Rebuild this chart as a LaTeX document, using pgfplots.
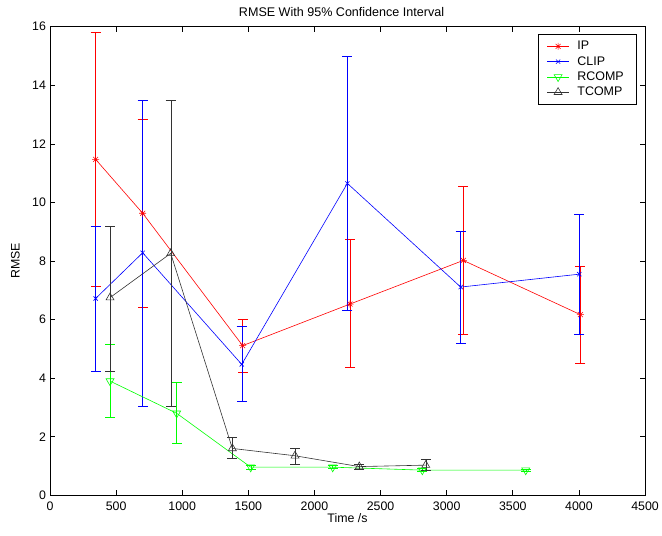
\documentclass[border=0pt]{standalone}
\usepackage{fontspec}
\setmainfont{Liberation Sans}
\usepackage{pgfplots}
\pgfplotsset{compat=1.18}
\definecolor{tgray}{rgb}{0.2,0.2,0.2}
\pgfdeclareplotmark{mstar}{%
  \pgfpathmoveto{\pgfqpoint{0pt}{\pgfplotmarksize}}\pgfpathlineto{\pgfqpoint{0pt}{-\pgfplotmarksize}}%
  \pgfpathmoveto{\pgfqpoint{\pgfplotmarksize}{0pt}}\pgfpathlineto{\pgfqpoint{-\pgfplotmarksize}{0pt}}%
  \pgfpathmoveto{\pgfqpoint{0.707\pgfplotmarksize}{0.707\pgfplotmarksize}}\pgfpathlineto{\pgfqpoint{-0.707\pgfplotmarksize}{-0.707\pgfplotmarksize}}%
  \pgfpathmoveto{\pgfqpoint{0.707\pgfplotmarksize}{-0.707\pgfplotmarksize}}\pgfpathlineto{\pgfqpoint{-0.707\pgfplotmarksize}{0.707\pgfplotmarksize}}%
  \pgfusepathqstroke}
\begin{document}
\begin{tikzpicture}[x=1bp,y=1bp]
\path[use as bounding box] (-50bp,-40.7bp) rectangle (612bp,495.3bp);
\begin{axis}[
  at={(0,0)}, anchor=south west,
  scale only axis, width=595bp, height=468.6bp,
  xmin=0, xmax=4500, ymin=0, ymax=16,
  xtick={0,500,...,4500}, ytick={0,2,...,16},
  tick align=inside, tick pos=both,
  major tick length=5bp,
  scaled x ticks=false,
  /pgf/number format/assume math mode=true,
  /pgf/number format/1000 sep={},
  ticklabel style={font=\fontsize{12.4}{14}\selectfont},
  xticklabel style={yshift=-3bp},
  yticklabel style={xshift=-0.5bp},
  axis line style={line width=0.8pt},
  every tick/.style={black, line width=0.6pt},
  title={RMSE With 95\% Confidence Interval},
  every axis title/.style={at={(axis description cs:0.49,1.0322)}, anchor=center, font=\fontsize{12.6}{14}\selectfont},
  xlabel={Time /s}, ylabel={RMSE},
  every axis x label/.style={at={(axis description cs:0.5,-0.0495)}, anchor=center, font=\fontsize{12.4}{14}\selectfont},
  every axis y label/.style={at={(axis description cs:-0.058,0.5)}, rotate=90, anchor=center, font=\fontsize{12.4}{14}\selectfont},
  legend style={at={(1,1)}, anchor=north east, xshift=-8.3bp, yshift=-7.6bp,
    draw=black, line width=0.6pt, font=\fontsize{12.5}{14}\selectfont,
    inner xsep=9bp, inner ysep=6.25bp, row sep=4.3bp, column sep=8bp,
    nodes={inner sep=0pt, text height=9bp, text depth=2bp}},
  legend image code/.code={\draw[mark repeat=2,mark phase=2] plot coordinates {(0bp,0bp) (11bp,0bp) (22bp,0bp)};},
  legend cell align=left,
  every axis plot/.append style={line width=0.6pt},
  error bars/y dir=both, error bars/y explicit,
  error bars/error mark options={rotate=90, mark size=5bp, line width=0.6pt},
]
\addplot[red, mark=mstar, mark size=3.5bp] coordinates {
 (345,11.47) += (0,4.35) -= (0,4.32)
 (701,9.63) += (0,3.21) -= (0,3.21)
 (1457,5.11) += (0,0.89) -= (0,0.91)
 (2269,6.53) += (0,2.20) -= (0,2.16)
 (3126,8.02) += (0,2.52) -= (0,2.52)
 (4011,6.17) += (0,1.64) -= (0,1.65)
};
\addlegendentry{\makebox[50bp][l]{IP}}
\addplot[blue, mark=x, mark size=3bp] coordinates {
 (345,6.72) += (0,2.45) -= (0,2.47)
 (701,8.28) += (0,5.22) -= (0,5.23)
 (1450,4.47) += (0,1.29) -= (0,1.27)
 (2249,10.65) += (0,4.35) -= (0,4.35)
 (3106,7.11) += (0,1.92) -= (0,1.92)
 (4003,7.55) += (0,2.05) -= (0,2.05)
};
\addlegendentry{\makebox[50bp][l]{CLIP}}
\addplot[green, mark=triangle, mark size=4.6bp, mark options={rotate=180}] coordinates {
 (454,3.90) += (0,1.26) -= (0,1.25)
 (958,2.80) += (0,1.06) -= (0,1.02)
 (1518,0.96) += (0,0.06) -= (0,0.06)
 (2138,0.96) += (0,0.05) -= (0,0.05)
 (2816,0.86) += (0,0.05) -= (0,0.05)
 (3598,0.86) += (0,0.04) -= (0,0.04)
};
\addlegendentry{\makebox[50bp][l]{RCOMP}}
\addplot[tgray, mark=triangle, mark size=4.6bp] coordinates {
 (454,6.75) += (0,2.42) -= (0,2.50)
 (913,8.26) += (0,5.24) -= (0,5.21)
 (1379,1.60) += (0,0.37) -= (0,0.32)
 (1853,1.35) += (0,0.24) -= (0,0.29)
 (2339,0.98) += (0,0.08) -= (0,0.08)
 (2842,1.03) += (0,0.21) -= (0,0.17)
};
\addlegendentry{\makebox[50bp][l]{TCOMP}}
\end{axis}
\end{tikzpicture}
\end{document}
